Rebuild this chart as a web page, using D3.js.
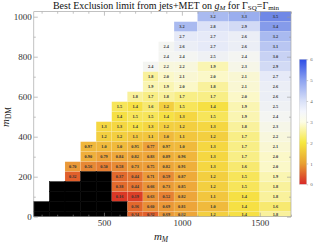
<!DOCTYPE html>
<html><head><meta charset="utf-8">
<script src="https://cdn.jsdelivr.net/npm/d3@7"></script>
<style>html,body{margin:0;padding:0;background:#fff;}svg{display:block;}</style>
</head><body>
<script>
// ---- data ----
const massM = [100,200,300,400,500,600,700,800,900,1000,1200,1400,1600];
const massDM = [1000,950,900,850,800,750,700,650,600,550,500,450,400,350,300,250,200,150,100,50,0];
const n = null; // no point; 0 = excluded (black)
const limits = [
 [n,n,n,n,n,n,n,n,n,n,3.2,3.3,3.5],
 [n,n,n,n,n,n,n,n,n,3.2,2.8,2.9,3.4],
 [n,n,n,n,n,n,n,n,n,2.7,2.7,2.6,3.2],
 [n,n,n,n,n,n,n,n,2.4,2.6,2.7,2.6,3.1],
 [n,n,n,n,n,n,n,n,2.4,2.4,2.5,2.4,3.0],
 [n,n,n,n,n,n,n,2.4,2.2,2.2,1.9,2.3,2.9],
 [n,n,n,n,n,n,n,1.8,2.0,2.1,2.0,2.1,2.7],
 [n,n,n,n,n,n,n,1.9,1.9,2.0,1.8,2.1,2.6],
 [n,n,n,n,n,n,1.8,1.7,1.8,1.7,1.7,2.0,2.6],
 [n,n,n,n,n,1.5,1.4,1.6,1.2,1.5,1.4,1.9,2.5],
 [n,n,n,n,n,1.4,1.5,1.5,1.4,1.3,1.5,1.9,2.4],
 [n,n,n,n,1.3,1.3,1.4,1.3,1.2,1.2,1.3,1.8,2.3],
 [n,n,n,n,1.2,1.2,1.1,1.1,1.0,1.1,1.2,1.7,2.2],
 [n,n,n,0.97,1.0,1.0,0.95,0.77,0.97,1.0,1.3,1.7,2.1],
 [n,n,n,0.90,0.79,0.84,0.82,0.83,0.89,0.96,1.3,1.7,2.0],
 [n,n,0.70,0.56,0.50,0.58,0.73,0.75,0.82,0.91,1.3,1.6,2.0],
 [n,n,0.32,0,0,0.37,0.44,0.71,0.59,0.87,1.2,1.5,1.9],
 [n,0,0,0,0,0.38,0.44,0.66,0.73,0.85,1.2,1.5,1.8],
 [n,0,0,0,0,0.16,0.19,0.63,0.52,0.82,1.1,1.4,1.8],
 [0,0,0,0,0,0,0.36,0.60,0.69,0.81,1.0,1.4,1.6],
 [0,0,0,0,0,0,0.34,0.32,0.69,0.82,1.2,1.4,1.8]
];
const xTicks = [500,1000,1500];
const yTicks = [0,200,400,600,800,1000];
const legendTicks = [0,1,2,3,4,5,6];

// ---- layout ----
const W = 318, H = 244;
const svg = d3.select("body").append("svg").attr("width", W).attr("height", H);
const x = d3.scaleLinear().domain([50,1700]).range([33.8,291]);
const y = d3.scaleLinear().domain([0,1025]).range([216.7,11.7]);

const cellColor = d3.scaleLinear()
  .domain([0.16,0.35,0.6,0.85,1.1,1.4,1.7,2.0,2.4,2.7,3.0,3.3,3.5])
  .range(["#db3826","#e2662c","#e88e36","#eea93a","#f2c63e","#f6e044","#f8ee86","#fbf8c8","#f4f5f2","#e6eaf8","#c8d2f4","#9aaeee","#7088e6"])
  .clamp(true);

// column edges at midpoints
const colEdges = massM.map((m,i)=>{
  const l = i===0 ? m-50 : (massM[i-1]+m)/2;
  const r = i===massM.length-1 ? m+100 : (m+massM[i+1])/2;
  return [l,r];
});
const rowEdges = massDM.map((m,i)=>{
  const top = i===0 ? m+25 : (massDM[i-1]+m)/2;
  const bot = i===massDM.length-1 ? Math.max(0,m-25) : (m+massDM[i+1])/2;
  return [bot,top];
});

const cells = [];
limits.forEach((row,ri)=>row.forEach((v,ci)=>{
  if (v===null) return;
  cells.push({v, ci, ri});
}));

const g = svg.append("g");
g.selectAll("rect.cell").data(cells).join("rect")
  .attr("x", d=>x(colEdges[d.ci][0]))
  .attr("width", d=>x(colEdges[d.ci][1])-x(colEdges[d.ci][0]))
  .attr("y", d=>y(rowEdges[d.ri][1]))
  .attr("height", d=>y(rowEdges[d.ri][0])-y(rowEdges[d.ri][1]))
  .attr("fill", d=>d.v===0 ? "#000" : cellColor(d.v))
  .attr("stroke", d=>d.v===0 ? "#000" : "rgba(255,255,255,0.22)")
  .attr("stroke-width", 0.5);

g.selectAll("text.val").data(cells.filter(d=>d.v>0)).join("text")
  .attr("x", d=>x(massM[d.ci]))
  .attr("y", d=>(y(rowEdges[d.ri][0])+y(rowEdges[d.ri][1]))/2 + 1.5)
  .attr("text-anchor","middle")
  .attr("font-family","Liberation Serif, serif")
  .attr("font-size", 4.3)
  .attr("font-weight","bold")
  .attr("fill","#333")
  .text(d=>d.v<1 ? d3.format(".2f")(d.v) : d3.format(".1f")(d.v));

// ---- frame & ticks ----
const frameCol = "#999";
const fx0 = x.range()[0], fx1 = x.range()[1], fy0 = y.range()[1], fy1 = y.range()[0];
const axL = svg.append("g").attr("transform",`translate(${fx0},0)`)
  .call(d3.axisLeft(y).tickValues(yTicks).tickSize(-4).tickPadding(2).tickFormat(d3.format("d")));
const axLm = svg.append("g").attr("transform",`translate(${fx0},0)`)
  .call(d3.axisLeft(y).tickValues(d3.range(100,1001,200)).tickSize(-2).tickFormat(""));
const axR = svg.append("g").attr("transform",`translate(${fx1},0)`)
  .call(d3.axisRight(y).tickValues(yTicks).tickSize(-4).tickFormat(""));
const axRm = svg.append("g").attr("transform",`translate(${fx1},0)`)
  .call(d3.axisRight(y).tickValues(d3.range(100,1001,200)).tickSize(-2).tickFormat(""));
const axB = svg.append("g").attr("transform",`translate(0,${fy1})`)
  .call(d3.axisBottom(x).tickValues(xTicks).tickSize(-4).tickPadding(3).tickFormat(d3.format("d")));
const axBm = svg.append("g").attr("transform",`translate(0,${fy1})`)
  .call(d3.axisBottom(x).tickValues(d3.range(100,1701,100).filter(v=>v%500)).tickSize(-2).tickFormat(""));
const axT = svg.append("g").attr("transform",`translate(0,${fy0})`)
  .call(d3.axisTop(x).tickValues(xTicks).tickSize(-4).tickFormat(""));
const axTm = svg.append("g").attr("transform",`translate(0,${fy0})`)
  .call(d3.axisTop(x).tickValues(d3.range(100,1701,100).filter(v=>v%500)).tickSize(-2).tickFormat(""));
[axL,axLm,axR,axRm,axB,axBm,axT,axTm].forEach(a=>{
  a.select(".domain").remove();
  a.selectAll("line").attr("stroke",frameCol).attr("stroke-width",0.6);
  a.selectAll("text").attr("font-family","Liberation Serif, serif").attr("font-size",9).attr("fill","#333");
});
svg.append("rect").attr("x",fx0).attr("y",fy0).attr("width",fx1-fx0).attr("height",fy1-fy0)
  .attr("fill","none").attr("stroke",frameCol).attr("stroke-width",0.6);

// ---- titles ----
const title = svg.append("text").attr("x",166).attr("y",8.5).attr("text-anchor","middle")
  .attr("font-family","Liberation Serif, serif").attr("font-size",10).attr("fill","#111");
title.append("tspan").text("Best Exclusion limit from jets+MET on ");
title.append("tspan").attr("font-style","italic").text("g");
title.append("tspan").attr("font-style","italic").attr("font-size",7).attr("dy",1.5).text("M");
title.append("tspan").attr("dy",-1.5).text(" for Γ");
title.append("tspan").attr("font-size",7).attr("dy",1.5).text("SQ");
title.append("tspan").attr("dy",-1.5).text("=Γ");
title.append("tspan").attr("font-size",7).attr("dy",1.5).text("min");

const xl = svg.append("text").attr("x",161).attr("y",240).attr("text-anchor","middle")
  .attr("font-family","Liberation Serif, serif").attr("font-size",11).attr("fill","#222");
xl.append("tspan").attr("font-style","italic").text("m");
xl.append("tspan").attr("font-style","italic").attr("font-size",7.5).attr("dy",2).text("M");

const yl = svg.append("text").attr("transform","translate(9,117) rotate(-90)").attr("text-anchor","middle")
  .attr("font-family","Liberation Serif, serif").attr("font-size",11).attr("fill","#222");
yl.append("tspan").attr("font-style","italic").text("m");
yl.append("tspan").attr("font-size",7.5).attr("dy",2).text("DM");

// ---- legend ----
const ly = d3.scaleLinear().domain([0,6]).range([184.3,59.3]);
const legStops = [[0,"#d82828"],[1,"#e8a032"],[2,"#f6e840"],[3,"#fdfde6"],[3.5,"#f4f6fd"],[4,"#d8e0f8"],[5,"#8ca2f0"],[6,"#2c4ce6"]];
const defs = svg.append("defs");
const grad = defs.append("linearGradient").attr("id","lg").attr("x1",0).attr("y1",1).attr("x2",0).attr("y2",0);
grad.selectAll("stop").data(legStops).join("stop")
  .attr("offset",d=>d[0]/6).attr("stop-color",d=>d[1]);
svg.append("rect").attr("x",299.3).attr("y",ly(6)).attr("width",7.4).attr("height",ly(0)-ly(6))
  .attr("fill","url(#lg)").attr("stroke","#ccc").attr("stroke-width",0.4);
const axLeg = svg.append("g").attr("transform","translate(306.7,0)")
  .call(d3.axisRight(ly).tickValues(legendTicks).tickSize(1.5).tickPadding(2).tickFormat(d3.format("d")));
axLeg.select(".domain").remove();
axLeg.selectAll("line").attr("stroke","#999").attr("stroke-width",0.5);
axLeg.selectAll("text").attr("font-family","Liberation Serif, serif").attr("font-size",5).attr("fill","#666");
</script>
</body></html>
